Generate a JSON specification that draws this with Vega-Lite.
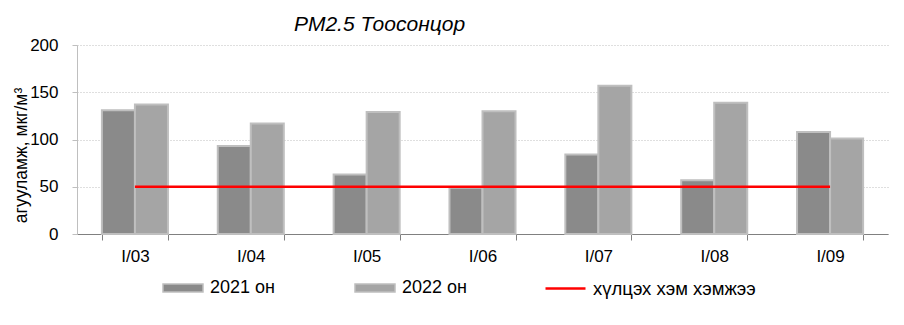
{
  "$schema": "https://vega.github.io/schema/vega-lite/v6.json",
  "width": 811,
  "height": 189,
  "autosize": {"type": "none"},
  "padding": {"left": 77, "top": 45, "right": 16, "bottom": 91},
  "background": "white",
  "config": {"font": "Liberation Sans", "view": {"stroke": null}},
  "title": {"text": "PM2.5 Тоосонцор", "fontStyle": "italic", "fontWeight": "normal", "fontSize": 21, "font": "Liberation Sans", "anchor": "middle", "dx": -103, "offset": 1, "color": "black"},
  "data": {"values": [
    {"month": "I/03", "series": "2021 он", "value": 131},
    {"month": "I/03", "series": "2022 он", "value": 137},
    {"month": "I/04", "series": "2021 он", "value": 93},
    {"month": "I/04", "series": "2022 он", "value": 117},
    {"month": "I/05", "series": "2021 он", "value": 63},
    {"month": "I/05", "series": "2022 он", "value": 129},
    {"month": "I/06", "series": "2021 он", "value": 49},
    {"month": "I/06", "series": "2022 он", "value": 130},
    {"month": "I/07", "series": "2021 он", "value": 84},
    {"month": "I/07", "series": "2022 он", "value": 157},
    {"month": "I/08", "series": "2021 он", "value": 57},
    {"month": "I/08", "series": "2022 он", "value": 139},
    {"month": "I/09", "series": "2021 он", "value": 108},
    {"month": "I/09", "series": "2022 он", "value": 101},
    {"month": "I/03", "series": "хүлцэх хэм хэмжээ", "value": 50},
    {"month": "I/04", "series": "хүлцэх хэм хэмжээ", "value": 50},
    {"month": "I/05", "series": "хүлцэх хэм хэмжээ", "value": 50},
    {"month": "I/06", "series": "хүлцэх хэм хэмжээ", "value": 50},
    {"month": "I/07", "series": "хүлцэх хэм хэмжээ", "value": 50},
    {"month": "I/08", "series": "хүлцэх хэм хэмжээ", "value": 50},
    {"month": "I/09", "series": "хүлцэх хэм хэмжээ", "value": 50}
  ]},
  "layer": [
    {
      "transform": [{"filter": "datum.series != 'хүлцэх хэм хэмжээ'"}],
      "mark": {"type": "bar", "stroke": "#bfbfbf", "strokeWidth": 2},
      "encoding": {
        "x": {"field": "month", "type": "nominal", "sort": null,
              "scale": {"paddingInner": 0.43, "paddingOuter": 0.215},
              "axis": {"title": null, "labelAngle": 0, "labelFontSize": 17, "labelColor": "black", "labelPadding": 8, "tickBand": "extent", "tickSize": 6, "tickColor": "#808080", "domainColor": "#808080", "grid": false}},
        "xOffset": {"field": "series", "type": "nominal", "sort": ["2021 он", "2022 он"], "scale": {"paddingInner": 0, "paddingOuter": 0}},
        "y": {"field": "value", "type": "quantitative", "scale": {"domain": [0, 200]},
              "axis": {"title": "агууламж, мкг/м³", "titleFontSize": 17.5, "titleFontWeight": "normal", "titleColor": "black", "titleX": -47, "titleY": 110, "values": [0, 50, 100, 150, 200], "labelFontSize": 17, "labelColor": "black", "labelPadding": 14, "tickSize": 5, "tickColor": "#bfbfbf", "domainColor": "#bfbfbf", "grid": true, "gridColor": "#bfbfbf", "gridDash": [1, 2]}},
        "fill": {"field": "series", "type": "nominal",
                  "scale": {"domain": ["2021 он", "2022 он"], "range": ["#8a8a8a", "#a5a5a5"]},
                  "legend": {"orient": "none", "legendX": 85, "legendY": 222, "direction": "horizontal", "title": null, "symbolType": "M-1,-0.2H1V0.2H-1Z", "symbolSize": 1600, "symbolStrokeColor": "#bfbfbf", "symbolStrokeWidth": 1.5, "symbolOpacity": 1, "labelFontSize": 18, "labelColor": "black", "labelOffset": 6, "labelLimit": 300, "columnPadding": 77, "padding": 0}}
      }
    },
    {
      "transform": [{"filter": "datum.series == 'хүлцэх хэм хэмжээ'"}],
      "mark": {"type": "line", "strokeWidth": 2.5},
      "encoding": {
        "x": {"field": "month", "type": "nominal", "sort": null},
        "y": {"field": "value", "type": "quantitative"},
        "stroke": {"field": "series", "type": "nominal",
                   "scale": {"domain": ["хүлцэх хэм хэмжээ"], "range": ["#ff0000"]},
                   "legend": {"orient": "none", "legendX": 467, "legendY": 222, "direction": "horizontal", "title": null, "symbolType": "stroke", "symbolSize": 1600, "symbolStrokeWidth": 2.5, "labelFontSize": 18.5, "labelColor": "black", "labelOffset": 6, "labelLimit": 300, "padding": 0}}
      }
    }
  ]
}
